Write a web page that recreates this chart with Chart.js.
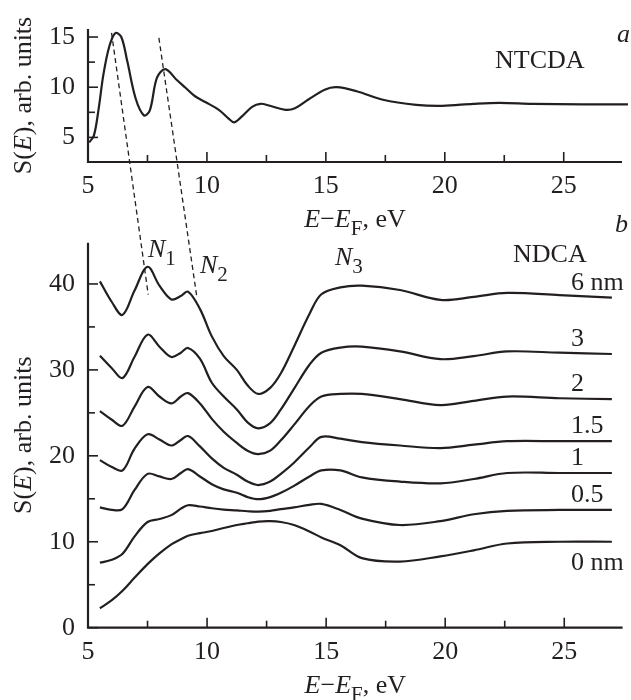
<!DOCTYPE html>
<html>
<head>
<meta charset="utf-8">
<script src="https://cdn.jsdelivr.net/npm/chart.js@4.4.1/dist/chart.umd.min.js"></script>
<style>
  body { margin: 0; background: #fff; }
  #wrap { position: relative; width: 631px; height: 700px; }
  canvas { position: absolute; left: 0; }
  #topChart { top: 0; }
  #bottomChart { top: 200px; }
  #dashes { top: 0; pointer-events: none; }
</style>
</head>
<body>
<div id="wrap">
  <canvas id="topChart" width="631" height="240"></canvas>
  <canvas id="bottomChart" width="631" height="500"></canvas>
  <canvas id="dashes" width="631" height="700"></canvas>
</div>
<script>
// panel a: NTCDA
const topEnergy = [5.05, 5.25, 5.45, 5.65, 5.9, 6.15, 6.4, 6.65, 7.0, 7.35, 7.6, 7.9, 8.25, 8.7, 9.1, 9.5, 9.95, 10.5, 10.9, 11.15, 11.45, 11.9, 12.25, 12.65, 13.3, 13.7, 14.25, 14.95, 15.45, 16.3, 17.4, 18.8, 19.9, 21.2, 22.3, 23.7, 25.8, 27.7];
const ntcda = [4.5, 5.2, 7.9, 11.3, 14.1, 15.4, 15.0, 12.6, 8.9, 7.2, 7.7, 10.95, 11.8, 10.8, 9.95, 9.1, 8.5, 7.75, 6.9, 6.5, 7.05, 8.05, 8.35, 8.15, 7.75, 7.9, 8.75, 9.75, 10.0, 9.6, 8.75, 8.25, 8.15, 8.35, 8.45, 8.35, 8.3, 8.3];

// panel b: NDCA, one curve per film thickness
const bottomEnergy = [5.5, 6.0, 6.45, 6.95, 7.5, 8.0, 8.5, 8.9, 9.2, 9.7, 10.2, 10.7, 11.25, 11.7, 12.15, 12.65, 13.1, 13.65, 14.3, 14.8, 15.6, 16.5, 18.1, 19.8, 21.2, 22.6, 24.8, 27.0];
const ndca6 = [40.3, 37.9, 36.4, 39.2, 42.0, 39.8, 38.2, 38.6, 39.1, 37.1, 33.9, 31.6, 30.0, 28.2, 27.2, 27.9, 29.6, 32.7, 36.5, 38.8, 39.6, 39.8, 39.3, 38.15, 38.5, 38.95, 38.7, 38.4];
const ndca3 = [31.65, 30.2, 29.05, 31.5, 34.1, 32.7, 31.5, 32.0, 32.55, 31.3, 28.5, 26.9, 25.4, 23.9, 23.2, 23.8, 25.4, 27.8, 30.6, 32.0, 32.6, 32.7, 32.15, 31.25, 31.6, 32.15, 32.0, 31.85];
const ndca2 = [25.2, 24.2, 23.5, 25.7, 28.0, 26.9, 26.1, 26.9, 27.3, 26.1, 24.3, 22.8, 21.5, 20.6, 20.2, 20.6, 21.8, 23.6, 25.8, 26.9, 27.2, 27.2, 26.6, 25.9, 26.4, 26.9, 26.7, 26.6];
const ndca15 = [19.5, 18.7, 18.3, 20.8, 22.5, 21.9, 21.2, 21.85, 22.3, 21.1, 19.7, 18.6, 17.8, 17.0, 16.6, 17.0, 17.9, 19.2, 21.0, 22.2, 22.0, 21.6, 21.2, 20.9, 21.3, 21.7, 21.7, 21.7];
const ndca1 = [14.0, 13.7, 13.8, 16.0, 17.9, 17.6, 17.3, 18.0, 18.45, 17.6, 16.7, 16.1, 15.7, 15.2, 14.95, 15.2, 15.7, 16.5, 17.6, 18.3, 18.3, 17.5, 17.0, 16.8, 17.3, 18.0, 18.0, 18.0];
const ndca05 = [7.57, 7.9, 8.6, 10.6, 12.3, 12.65, 13.1, 13.85, 14.25, 14.1, 13.9, 13.75, 13.65, 13.55, 13.5, 13.6, 13.8, 14.0, 14.3, 14.4, 13.7, 12.7, 11.95, 12.4, 13.2, 13.6, 13.7, 13.7];
const ndca0 = [2.26, 3.2, 4.3, 5.8, 7.4, 8.65, 9.7, 10.3, 10.7, 11.0, 11.25, 11.6, 11.95, 12.15, 12.35, 12.4, 12.3, 11.95, 11.2, 10.5, 9.6, 8.1, 7.7, 8.3, 9.0, 9.8, 10.0, 10.0];
const thickness = ['6 nm', '3', '2', '1.5', '1', '0.5', '0 nm'];

// tick labels
const xTickLabels = [5, 10, 15, 20, 25];
const topYTickLabels = [5, 10, 15];
const bottomYTickLabels = [0, 10, 20, 30, 40];

// dashed guides N1, N2: [energy, S] in panel a -> panel b
const dashTop = [[5.99, 15.42], [7.98, 14.92]];
const dashBottom = [[7.53, 38.75], [9.57, 38.5]];

const ink = '#231f20';
const serif = '"Liberation Serif", "Times New Roman", serif';
const FS = 26;

function rich(ctx, parts, x, y, align) {
  // parts: [text, kind] kind: '' normal, 'i' italic, 's' subscript
  const fontOf = k => (k === 'i' ? 'italic ' : '') + (k === 's' ? Math.round(FS * 0.8) : FS) + 'px ' + serif;
  let w = 0;
  parts.forEach(p => { ctx.font = fontOf(p[1]); w += ctx.measureText(p[0]).width; });
  let cx = align === 'center' ? x - w / 2 : x;
  ctx.textAlign = 'left';
  ctx.textBaseline = 'alphabetic';
  ctx.fillStyle = ink;
  parts.forEach(p => {
    ctx.font = fontOf(p[1]);
    ctx.fillText(p[0], cx, p[1] === 's' ? y + FS * 0.3 : y);
    cx += ctx.measureText(p[0]).width;
  });
}

const yTitle = [['S(', ''], ['E', 'i'], ['), arb. units', '']];
const xTitle = [['E', 'i'], ['\u2212', ''], ['E', 'i'], ['F', 's'], [', eV', '']];

const axesPlugin = {
  id: 'axesPlugin',
  afterDraw(chart) {
    const ctx = chart.ctx;
    const a = chart.chartArea;
    const xs = chart.scales.x, ys = chart.scales.y;
    ctx.save();
    ctx.strokeStyle = ink;
    ctx.lineWidth = 2.2;
    ctx.beginPath();
    ctx.moveTo(a.left, a.top);
    ctx.lineTo(a.left, a.bottom);
    ctx.lineTo(a.right, a.bottom);
    ctx.stroke();
    ctx.lineWidth = 1.6;
    xs.ticks.forEach(t => {
      const px = xs.getPixelForValue(t.value);
      const len = t.value % 5 === 0 ? 10 : 7;
      ctx.beginPath(); ctx.moveTo(px, a.bottom); ctx.lineTo(px, a.bottom - len); ctx.stroke();
    });
    const major = chart.canvas.id === 'topChart' ? 5 : 10;
    ys.ticks.forEach(t => {
      const py = ys.getPixelForValue(t.value);
      const len = t.value % major === 0 ? 10 : 7;
      ctx.beginPath(); ctx.moveTo(a.left, py); ctx.lineTo(a.left + len, py); ctx.stroke();
    });
    // axis titles
    const midY = (a.top + a.bottom) / 2;
    ctx.save();
    ctx.translate(31, midY);
    ctx.rotate(-Math.PI / 2);
    rich(ctx, yTitle, 0, 0, 'center');
    ctx.restore();
    rich(ctx, xTitle, (a.left + a.right) / 2, a.bottom + 65, 'center');
    ctx.restore();
  }
};

const topText = {
  id: 'topText',
  afterDraw(chart) {
    const ctx = chart.ctx;
    ctx.save();
    rich(ctx, [['a', 'i']], 617, 42, 'left');
    rich(ctx, [['NTCDA', '']], 495, 68, 'left');
    ctx.restore();
  }
};

const bottomText = {
  id: 'bottomText',
  afterDraw(chart) {
    const ctx = chart.ctx;
    const ys = chart.scales.y;
    ctx.save();
    rich(ctx, [['b', 'i']], 615, 32, 'left');
    rich(ctx, [['NDCA', '']], 513, 62, 'left');
    rich(ctx, [['N', 'i'], ['1', 's']], 148, 57, 'left');
    rich(ctx, [['N', 'i'], ['2', 's']], 200, 73, 'left');
    rich(ctx, [['N', 'i'], ['3', 's']], 335, 65, 'left');
    chart.data.datasets.forEach((ds, i) => {
      const last = ds.data[ds.data.length - 1].y;
      const py = ys.getPixelForValue(last);
      rich(ctx, [[thickness[i], '']], 571, i === thickness.length - 1 ? py + 28 : py - 8, 'left');
    });
    ctx.restore();
  }
};

function pts(xs, ys) {
  return xs.map((x, i) => ({ x: x, y: ys[i] }));
}

function options(yMin, yMax, yLabels, pad, yWidth, xHeight) {
  return {
    responsive: false,
    animation: false,
    events: [],
    layout: { padding: pad },
    plugins: { legend: { display: false }, tooltip: { enabled: false } },
    elements: {
      point: { radius: 0 },
      line: { borderWidth: 2.2, borderColor: ink, tension: 0.35, fill: false }
    },
    scales: {
      x: {
        type: 'linear', min: 5, max: 27.45,
        grid: { display: false, drawTicks: false },
        border: { display: false },
        ticks: {
          stepSize: 2.5, autoSkip: false, maxRotation: 0, includeBounds: false, padding: 9,
          color: ink, font: { family: serif, size: FS },
          callback: v => xTickLabels.includes(v) ? String(v) : ''
        },
        afterFit: s => { s.height = xHeight; }
      },
      y: {
        type: 'linear', min: yMin, max: yMax,
        grid: { display: false, drawTicks: false },
        border: { display: false },
        ticks: {
          stepSize: yLabels[1] - yLabels[0] === 5 ? 2.5 : 5, autoSkip: false, includeBounds: false, padding: 13,
          color: ink, font: { family: serif, size: FS },
          callback: v => yLabels.includes(v) ? String(v) : ''
        },
        afterFit: s => { s.width = yWidth; }
      }
    }
  };
}

const topChart = new Chart(document.getElementById('topChart'), {
  type: 'line',
  data: { datasets: [{ data: pts(topEnergy, ntcda), clip: false }] },
  options: options(2.55, 15.8, topYTickLabels, { left: 0, top: 29, right: 9, bottom: 0 }, 88, 78),
  plugins: [axesPlugin, topText]
});

const curves = [ndca6, ndca3, ndca2, ndca15, ndca1, ndca05, ndca0];
const bottomChart = new Chart(document.getElementById('bottomChart'), {
  type: 'line',
  data: { datasets: curves.map(c => ({ data: pts(bottomEnergy, c) })) },
  options: options(0, 44.8, bottomYTickLabels, { left: 0, top: 42.7, right: 8.4, bottom: 0 }, 88, 72.3),
  plugins: [axesPlugin, bottomText]
});

// dashed guides across both panels
const dc = document.getElementById('dashes');
const dpr = window.devicePixelRatio || 1;
dc.width = 631 * dpr; dc.height = 700 * dpr;
dc.style.width = '631px'; dc.style.height = '700px';
const over = dc.getContext('2d');
over.scale(dpr, dpr);
over.strokeStyle = ink;
over.lineWidth = 1.3;
over.setLineDash([5, 3.5]);
dashTop.forEach((p, i) => {
  const q = dashBottom[i];
  over.beginPath();
  over.moveTo(topChart.scales.x.getPixelForValue(p[0]), topChart.scales.y.getPixelForValue(p[1]));
  over.lineTo(bottomChart.scales.x.getPixelForValue(q[0]), 200 + bottomChart.scales.y.getPixelForValue(q[1]));
  over.stroke();
});
</script>
</body>
</html>
